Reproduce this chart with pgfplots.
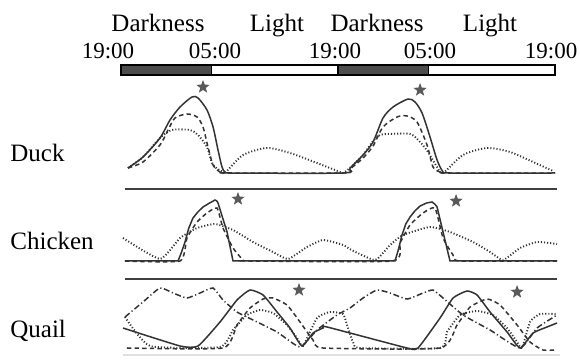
\documentclass[border=0pt]{standalone}
\usepackage{fontspec}
\setmainfont{Liberation Serif}
\usepackage{pgfplots}
\pgfplotsset{compat=1.18}

% filled five-pointed star
\pgfdeclareplotmark{fstar}{%
  \pgfpathmoveto{\pgfpointpolar{90}{\pgfplotmarksize}}%
  \pgfpathlineto{\pgfpointpolar{126}{0.42\pgfplotmarksize}}%
  \pgfpathlineto{\pgfpointpolar{162}{\pgfplotmarksize}}%
  \pgfpathlineto{\pgfpointpolar{198}{0.42\pgfplotmarksize}}%
  \pgfpathlineto{\pgfpointpolar{234}{\pgfplotmarksize}}%
  \pgfpathlineto{\pgfpointpolar{270}{0.42\pgfplotmarksize}}%
  \pgfpathlineto{\pgfpointpolar{306}{\pgfplotmarksize}}%
  \pgfpathlineto{\pgfpointpolar{342}{0.42\pgfplotmarksize}}%
  \pgfpathlineto{\pgfpointpolar{18}{\pgfplotmarksize}}%
  \pgfpathlineto{\pgfpointpolar{54}{0.42\pgfplotmarksize}}%
  \pgfpathclose\pgfusepathqfillstroke}

\tikzset{
  crv/.style={line width=0.75pt, color=black!80, smooth, tension=0.45},
  dsh/.style={crv, dash pattern=on 2.2pt off 1.6pt},
  dtt/.style={crv, line width=0.95pt, dash pattern=on 0.55pt off 1.0pt},
  dsd/.style={crv, dash pattern=on 3pt off 1.3pt on 0.6pt off 1.3pt},
  lbl/.style={font=\fontsize{12.5}{14}\selectfont, inner sep=0pt},
  tim/.style={font=\fontsize{11.5}{13}\selectfont, inner sep=0pt},
}

\begin{document}
\begin{tikzpicture}
\begin{axis}[
  scale only axis, width=290pt, height=181.5pt,
  xmin=-13.385, xmax=50.77,
  ymin=0, ymax=363, y dir=reverse,
  axis lines=none, clip=false,
]
% light/dark bar (hours after 19:00)
\addplot[fill=black!70, draw=black, line width=0.8pt] coordinates {(0,65) (10,65) (10,75) (0,75)} --cycle;
\addplot[fill=white, draw=black, line width=0.8pt] coordinates {(10,65) (24,65) (24,75) (10,75)} --cycle;
\addplot[fill=black!70, draw=black, line width=0.8pt] coordinates {(24,65) (34,65) (34,75) (24,75)} --cycle;
\addplot[fill=white, draw=black, line width=0.8pt] coordinates {(34,65) (48,65) (48,75) (34,75)} --cycle;

\node[lbl, anchor=base] at (axis cs:4.09,32) {Darkness};
\node[lbl, anchor=base] at (axis cs:17.26,32) {Light};
\node[lbl, anchor=base] at (axis cs:28.32,32) {Darkness};
\node[lbl, anchor=base] at (axis cs:40.82,32) {Light};
\node[tim, anchor=base] at (axis cs:-1.44,59) {19:00};
\node[tim, anchor=base] at (axis cs:10.4,59) {05:00};
\node[tim, anchor=base] at (axis cs:23.67,59) {19:00};
\node[tim, anchor=base] at (axis cs:34.18,59) {05:00};
\node[tim, anchor=base] at (axis cs:47.57,59) {19:00};

\node[lbl, anchor=base west] at (axis cs:-12.28,162) {Duck};
\node[lbl, anchor=base west] at (axis cs:-12.28,250) {Chicken};
\node[lbl, anchor=base west] at (axis cs:-12.28,338) {Quail};

% panel separators
\addplot[black!75, line width=0.7pt] coordinates {(0.44,189) (48.23,189)};
\addplot[black!75, line width=0.7pt] coordinates {(0.44,279) (48.23,279)};
\addplot[black!12, line width=1.2pt] coordinates {(0.2,355) (48.6,355)};

% ---- Duck ----
\addplot[crv] coordinates {(0.77,168) (2.43,157) (4.31,138) (5.42,120) (6.53,107) (7.85,97) (8.52,98) (9.51,110) (10.18,127) (10.73,150) (11.17,167) (11.5,172) (12.2,173) (24.56,173) (25.33,168) (26.77,155) (27.88,142) (28.98,118) (30.09,107) (31.75,99) (32.52,102) (33.3,113) (34.18,137) (34.96,160) (35.62,172) (36.3,173) (48.01,173)};
\addplot[dsh] coordinates {(0.77,168) (2.43,162) (4.31,145) (5.2,130) (5.97,118) (7.3,114) (8.41,117) (9.07,127) (9.62,147) (10.18,165) (10.95,172) (11.7,173) (24.56,173) (25.33,169) (26.77,158) (27.88,146) (28.98,127) (30.53,117) (31.64,116) (32.74,122) (33.85,145) (34.51,167) (35.29,172) (36,173) (48.01,173)};
\addplot[dtt] coordinates {(0.77,168) (2.43,157) (4.31,138) (5.64,130) (7.63,130) (8.52,135) (9.51,147) (10.18,165) (11.28,172) (11.5,173) (13.5,155) (16.15,148) (18.69,153) (21.68,163) (24.23,172) (24.56,173) (25.33,168) (26.77,155) (27.88,141) (28.65,135) (29.5,134) (31.97,134) (33.08,142) (33.96,152) (34.96,167) (35.62,173) (37.83,155) (40.49,148) (43.03,152) (45.58,162) (47.79,171)};

% ---- Chicken ----
\addplot[crv, sharp plot] coordinates {(0.44,261) (6.31,261) (6.7,252) (7.08,242) (7.5,228) (7.96,218) (8.5,212) (9.07,207) (9.8,203) (10.4,200) (10.6,201) (10.73,203) (11.73,232) (12.39,261) (30.31,261) (30.7,249) (31.08,235) (31.5,224) (31.97,217) (32.5,211) (33.08,206) (33.8,203) (34.4,202) (34.7,204) (34.96,207) (35.62,232) (36.39,261) (48.23,261)};
\addplot[dsh, tension=0.3] coordinates {(0.44,261) (6.53,261) (7.3,238) (8.41,222) (9.51,213) (10.62,208) (11.28,228) (12.39,248) (13.5,260) (14.2,261) (30.0,261) (30.86,243) (31.97,225) (33.41,213) (34.73,208) (35.62,238) (36.73,255) (37.5,261) (48.23,261)};
\addplot[dtt, tension=0.3] coordinates {(0.22,238) (4.31,259) (6.53,238) (8.41,228) (10.4,224) (12.39,230) (14.6,242) (16.81,252) (18.47,259) (20.58,247) (22.35,240) (24.56,245) (25.5,250) (28.1,260) (29.76,245) (31.19,235) (34.18,227) (36.39,232) (38.94,242) (40.82,252) (42.26,260) (44.14,248) (46.02,242) (48.23,244)};

% ---- Quail ----
\addplot[dsd, tension=0.3] coordinates {(0.44,317) (2.43,302) (4.31,288) (5.75,293) (7.3,298) (8.74,293) (10.18,288) (11.28,300) (12.83,312) (14.6,320) (17.26,332) (19.8,347) (21.68,330) (23.89,315) (25.33,308) (26.77,298) (28.32,290) (29.76,293) (31.64,299) (33.41,293) (34.51,290) (35.62,298) (37.83,315) (40.82,330) (44.14,348) (46.02,328) (48.23,315)};
\addplot[crv, tension=0.3] coordinates {(0.22,328) (6.53,346) (8.52,346) (10.95,322) (12.83,300) (14.27,290) (15.71,295) (17.26,312) (18.69,328) (20.02,346) (21.24,333) (22.35,328) (22.79,327) (31.64,348) (32.85,348) (35.29,318) (36.73,298) (38.27,291) (39.38,295) (40.82,312) (42.7,332) (44.14,348) (45.58,333) (47.12,327) (48.23,323)};
\addplot[dsh, tension=0.3] coordinates {(0.66,348) (11.28,348) (12.83,325) (14.27,308) (15.71,299) (16.81,298) (18.36,305) (19.8,322) (21.24,340) (22.35,348) (35.29,348) (37.17,325) (38.61,307) (40.49,299) (41.92,305) (43.81,325) (45.24,342) (46.68,350) (48.23,350)};
\addplot[dtt, tension=0.3] coordinates {(0.44,317) (3.21,346) (10.95,347) (12.39,330) (13.94,315) (15.38,310) (16.81,313) (18.36,325) (19.47,338) (20.13,346) (21.68,318) (23.12,312) (24.56,314) (25.0,325) (25.66,342) (26.44,348) (35.3,348) (36.06,332) (37.5,315) (39.38,311) (41.15,315) (42.7,328) (43.81,342) (44.36,348) (45.24,322) (46.35,314) (48.23,314)};

% peak markers
\addplot[only marks, mark=fstar, mark size=2.9pt, fill=black!65, draw=black!65] coordinates {(9.07,87) (33.08,90) (12.94,199) (37.06,201) (19.69,290) (43.81,292)};
\end{axis}
\pgfresetboundingbox
\path (current axis.south west) rectangle (current axis.north east);
\end{tikzpicture}
\end{document}
